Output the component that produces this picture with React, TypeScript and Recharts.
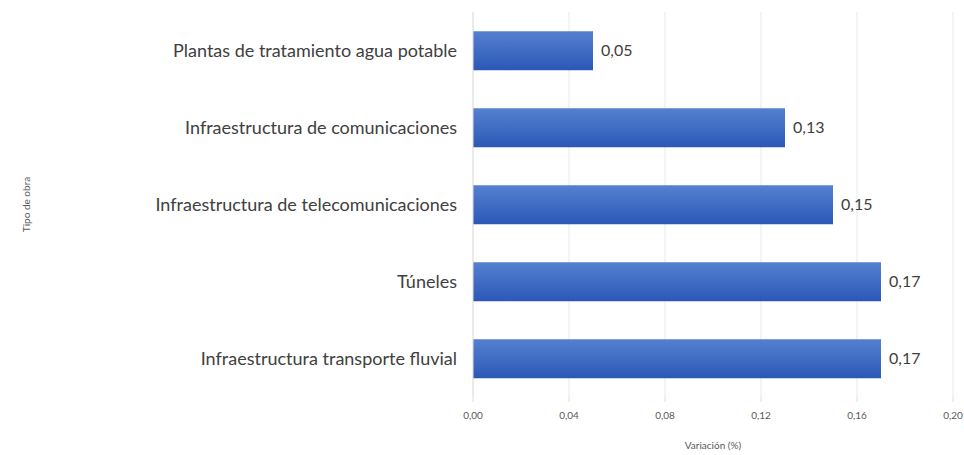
import { BarChart, Bar, XAxis, YAxis, CartesianGrid, LabelList, Label } from "recharts";

const categories = [
  "Plantas de tratamiento agua potable",
  "Infraestructura de comunicaciones",
  "Infraestructura de telecomunicaciones",
  "Túneles",
  "Infraestructura transporte fluvial",
];
const variacion = [0.05, 0.13, 0.15, 0.17, 0.17];
const xTicks = [0, 0.04, 0.08, 0.12, 0.16, 0.2];

const data = categories.map((name, i) => ({ name, value: variacion[i] }));

const fmt = (v: any) => Number(v).toFixed(2).replace(".", ",");

export default function App() {
  return (
    <div style={{ position: "absolute", left: 0, top: 0, background: "#fff", fontFamily: "Lato" }}>
      <BarChart
        width={964}
        height={455}
        data={data}
        layout="vertical"
        margin={{ top: 12, right: 11, bottom: 0, left: 0 }}
        barCategoryGap="25%"
      >
        <defs>
          <linearGradient id="barGrad" x1="0" y1="0" x2="0" y2="1">
            <stop offset="0%" stopColor="#5580d0" />
            <stop offset="100%" stopColor="#2b58b6" />
          </linearGradient>
        </defs>
        <CartesianGrid horizontal={false} stroke="#e8e8e8" />
        <XAxis
          type="number"
          domain={[0, 0.2]}
          ticks={xTicks}
          tickFormatter={fmt}
          height={58}
          axisLine={false}
          tickLine={{ stroke: "#e0e0e0" }}
          tickSize={5}
          tickMargin={10}
          tick={{ fontSize: 10, fill: "#595959", fontFamily: "Lato" }}
        >
          <Label
            value="Variación (%)"
            position="insideBottom"
            offset={6}
            style={{ fontSize: 10, fill: "#595959", fontFamily: "Lato" }}
          />
        </XAxis>
        <YAxis
          type="category"
          dataKey="name"
          width={473}
          axisLine={{ stroke: "#e0e0e0" }}
          tickLine={false}
          tickSize={0}
          tickMargin={16}
          tick={{ fontSize: 18, fill: "#404040", fontFamily: "Lato" }}
        >
          <Label
            content={({ viewBox }: any) => {
              const cx = viewBox.x + 30;
              const cy = viewBox.y + viewBox.height / 2;
              return (
                <text
                  x={cx}
                  y={cy}
                  textAnchor="middle"
                  transform={`rotate(-90 ${cx} ${cy})`}
                  fontSize={10}
                  fill="#595959"
                  fontFamily="Lato"
                >
                  Tipo de obra
                </text>
              );
            }}
          />
        </YAxis>
        <Bar dataKey="value" fill="url(#barGrad)" isAnimationActive={false}>
          <LabelList
            dataKey="value"
            position="right"
            offset={8}
            formatter={fmt}
            style={{ fontSize: 16, fill: "#404040", fontFamily: "Lato" }}
          />
        </Bar>
      </BarChart>
    </div>
  );
}
